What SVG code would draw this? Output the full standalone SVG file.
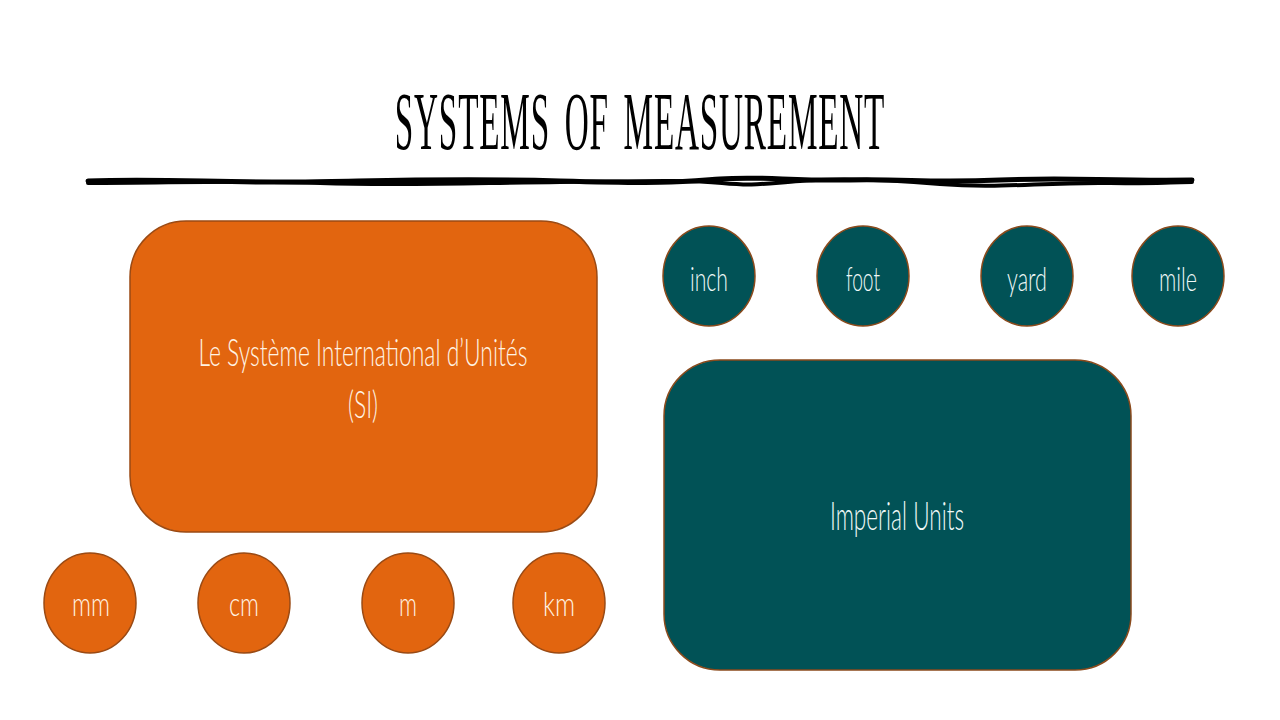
<svg xmlns="http://www.w3.org/2000/svg" width="1280" height="720" viewBox="0 0 1280 720">
  <style>
    .orange { fill: #E2650F; stroke: #9A4A14; stroke-width: 1.5; }
    .teal { fill: #015256; stroke: #8A4A1C; stroke-width: 1.5; }
    .lbl { font-family: "Lato", "Open Sans", "Liberation Sans", sans-serif; font-weight: 300; text-anchor: middle; }
    .lo { fill: #FFF3E4; }
    .lt { fill: #F0F9F8; }
    .ink { fill: none; stroke: #000; stroke-linecap: round; }
  </style>
  <rect width="1280" height="720" fill="#FFFFFF"/>

  <g id="title">
    <text transform="translate(640,149) scale(0.405,1)" x="0" y="0" font-family="Liberation Serif, serif" font-size="82" text-anchor="middle" letter-spacing="2" word-spacing="14" fill="#000">SYSTEMS OF MEASUREMENT</text>
    <path class="ink" stroke-width="5" d="M88 181 C 160 178, 220 183, 300 182 S 450 178, 560 181 S 680 182, 720 179 S 790 181, 850 180 S 930 183, 1000 180 S 1100 181, 1192 180"/>
    <path class="ink" stroke-width="4" d="M88 183 C 170 183, 240 180, 320 183 S 470 183, 560 182 S 690 180, 722 183 S 760 184, 800 181 S 880 179, 940 184 S 1040 182, 1110 183 S 1160 182, 1192 182"/>
  </g>

  <g id="si">
    <rect class="orange" x="130" y="221" width="467" height="311" rx="56" ry="56"/>
    <text class="lbl lo" x="363" y="366" font-size="38" textLength="329" lengthAdjust="spacingAndGlyphs">Le Système International d’Unités</text>
    <text class="lbl lo" x="363" y="418" font-size="38" textLength="30" lengthAdjust="spacingAndGlyphs">(SI)</text>
  </g>

  <g id="imperial">
    <rect class="teal" x="664" y="360" width="467" height="310" rx="56" ry="56"/>
    <text class="lbl lt" x="897" y="530" font-size="40" textLength="134" lengthAdjust="spacingAndGlyphs">Imperial Units</text>
  </g>

  <g id="mm">
    <ellipse class="orange" cx="90" cy="603" rx="46" ry="50"/>
    <text class="lbl lo" x="91" y="616" font-size="34" textLength="38" lengthAdjust="spacingAndGlyphs">mm</text>
  </g>
  <g id="cm">
    <ellipse class="orange" cx="244" cy="603" rx="46" ry="50"/>
    <text class="lbl lo" x="244" y="616" font-size="34" textLength="30" lengthAdjust="spacingAndGlyphs">cm</text>
  </g>
  <g id="m">
    <ellipse class="orange" cx="408" cy="603" rx="46" ry="50"/>
    <text class="lbl lo" x="408" y="616" font-size="34" textLength="18" lengthAdjust="spacingAndGlyphs">m</text>
  </g>
  <g id="km">
    <ellipse class="orange" cx="559" cy="603" rx="46" ry="50"/>
    <text class="lbl lo" x="559" y="616" font-size="34" textLength="32" lengthAdjust="spacingAndGlyphs">km</text>
  </g>

  <g id="inch">
    <ellipse class="teal" cx="709" cy="276" rx="46" ry="50"/>
    <text class="lbl lt" x="709" y="291" font-size="34" textLength="38" lengthAdjust="spacingAndGlyphs">inch</text>
  </g>
  <g id="foot">
    <ellipse class="teal" cx="863" cy="276" rx="46" ry="50"/>
    <text class="lbl lt" x="863" y="291" font-size="34" textLength="34" lengthAdjust="spacingAndGlyphs">foot</text>
  </g>
  <g id="yard">
    <ellipse class="teal" cx="1027" cy="276" rx="46" ry="50"/>
    <text class="lbl lt" x="1027" y="291" font-size="34" textLength="40" lengthAdjust="spacingAndGlyphs">yard</text>
  </g>
  <g id="mile">
    <ellipse class="teal" cx="1178" cy="276" rx="46" ry="50"/>
    <text class="lbl lt" x="1178" y="291" font-size="34" textLength="38" lengthAdjust="spacingAndGlyphs">mile</text>
  </g>

  <g id="connectors"></g>
</svg>
